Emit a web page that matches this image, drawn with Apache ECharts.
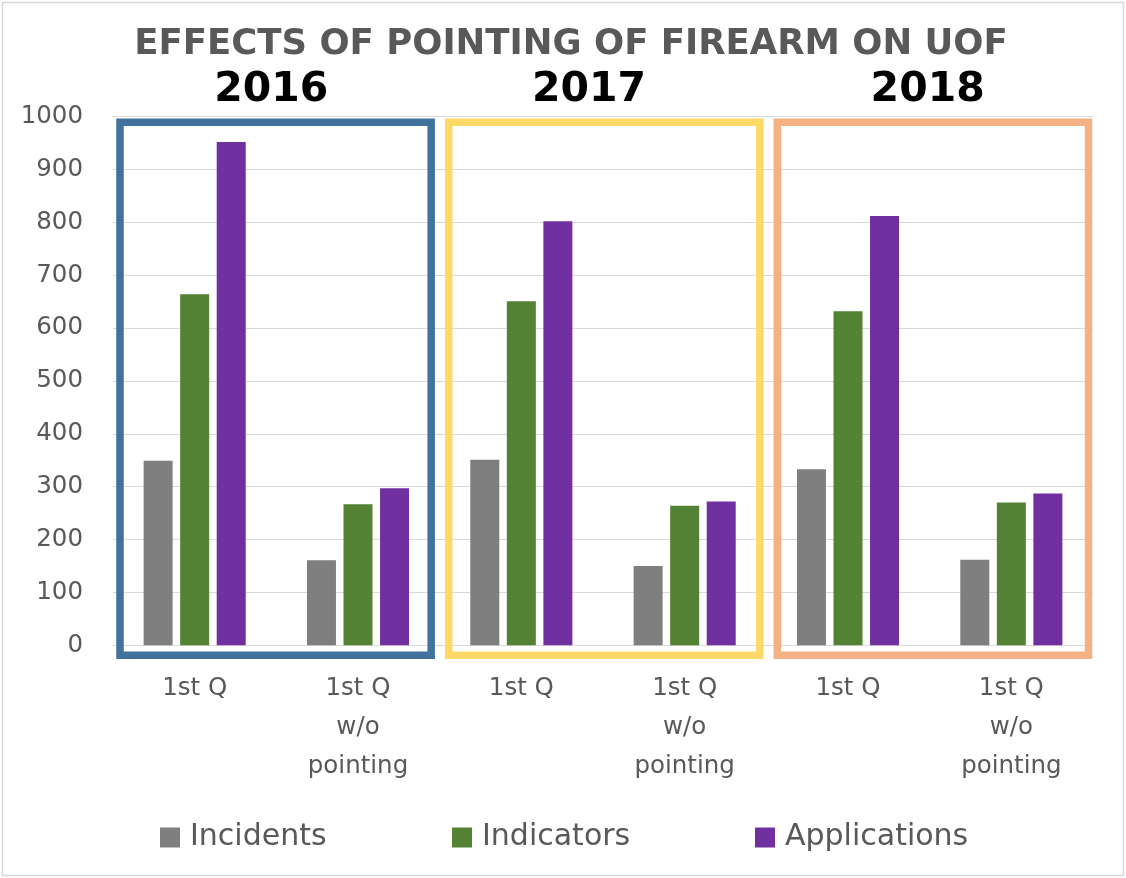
<!DOCTYPE html>
<html>
<head>
<meta charset="utf-8">
<script src="https://cdn.jsdelivr.net/npm/echarts@6/dist/echarts.min.js"></script>
<style>
  html, body { margin: 0; padding: 0; background: #ffffff; }
  #chart { width: 1126px; height: 878px; }
</style>
</head>
<body>
<div id="chart"></div>
<script>
// ---- data ----
const categories = ['1st Q', '1st Q\nw/o\npointing', '1st Q', '1st Q\nw/o\npointing', '1st Q', '1st Q\nw/o\npointing'];
const years = ['2016', '2017', '2018'];
const seriesNames = ['Incidents', 'Indicators', 'Applications'];
const incidents = [349, 161, 351, 150, 333, 162];
const indicators = [664, 267, 651, 264, 632, 270];
const applications = [952, 297, 802, 272, 812, 287];
const yMin = 0, yMax = 1000, yInterval = 100;
const titleText = 'EFFECTS OF POINTING OF FIREARM ON UOF';

// ---- styles / layout ----
const seriesColors = ['#7f7f7f', '#548235', '#7030a0'];
const boxColors = ['#41719c', '#ffd966', '#f4b183'];
const boxInsetL = [7, 9, 11];
const boxInsetR = [8.5, 6.5, 4.5];
const yearOffsets = [-5, -14, -2];
const legendLefts = [160, 452, 755];
const textColor = '#595959';
const FONT = '"DejaVu Sans", sans-serif';

const chart = echarts.init(document.getElementById('chart'), null, { renderer: 'canvas' });

const seriesData = [incidents, indicators, applications];

const option = {
  backgroundColor: '#ffffff',
  animation: false,
  grid: { left: 113, right: 33, top: 116.7, bottom: 232.7, containLabel: false },
  legend: seriesNames.map((n, i) => ({
    data: [n],
    left: legendLefts[i],
    top: 819.5,
    padding: 0,
    icon: 'rect',
    itemWidth: 20,
    itemHeight: 20,
    selectedMode: false,
    textStyle: { fontFamily: FONT, fontSize: 30, color: textColor, lineHeight: 36, padding: [0, 0, 0, 5] }
  })),
  xAxis: {
    type: 'category',
    data: categories,
    axisTick: { show: false },
    axisLine: { show: true, lineStyle: { color: '#d9d9d9', width: 1 } },
    axisLabel: {
      interval: 0,
      margin: 24,
      fontFamily: FONT,
      fontSize: 24.5,
      lineHeight: 39,
      color: textColor,
      align: 'center'
    }
  },
  yAxis: {
    type: 'value',
    min: yMin,
    max: yMax,
    interval: yInterval,
    axisLine: { show: false },
    axisTick: { show: false },
    splitLine: { lineStyle: { color: '#d9d9d9', width: 1 } },
    axisLabel: {
      margin: 30, fontFamily: FONT, fontSize: 24.5, color: textColor,
      formatter: (v) => String(v)
    }
  },
  series: seriesNames.map((n, i) => ({
    name: n,
    type: 'bar',
    data: seriesData[i],
    barWidth: 29,
    barGap: '26%',
    itemStyle: { color: seriesColors[i] }
  }))
};

chart.setOption(option);

function buildGraphics() {
  const c0 = chart.convertToPixel({ xAxisIndex: 0 }, 0);
  const c1 = chart.convertToPixel({ xAxisIndex: 0 }, 1);
  const band = c1 - c0;
  const y1000 = chart.convertToPixel({ yAxisIndex: 0 }, yMax);
  const y0 = chart.convertToPixel({ yAxisIndex: 0 }, yMin);
  const els = [];
  // outer chart frame
  els.push({
    type: 'rect', z: 0, silent: true,
    shape: { x: 2.5, y: 2.5, width: 1121, height: 873 },
    style: { fill: null, stroke: '#d9d9d9', lineWidth: 1.5 }
  });
  // title
  els.push({
    type: 'text', z: 10, silent: true,
    x: 571, y: 44.5,
    style: {
      text: titleText, fill: textColor,
      font: 'bold 35.5px ' + FONT,
      textAlign: 'center', textVerticalAlign: 'middle'
    }
  });
  years.forEach((yr, k) => {
    const ca = chart.convertToPixel({ xAxisIndex: 0 }, 2 * k);
    const cb = chart.convertToPixel({ xAxisIndex: 0 }, 2 * k + 1);
    const left = ca - band / 2 + boxInsetL[k];
    const right = cb + band / 2 - boxInsetR[k];
    const top = y1000 + 5.5;
    const bottom = y0 + 10;
    els.push({
      type: 'rect', z: 20, silent: true,
      shape: { x: left, y: top, width: right - left, height: bottom - top },
      style: { fill: null, stroke: boxColors[k], lineWidth: 7.5 }
    });
    els.push({
      type: 'text', z: 20, silent: true,
      x: (ca + cb) / 2 + yearOffsets[k], y: 90,
      style: {
        text: yr, fill: '#000000',
        font: 'bold 41px ' + FONT,
        textAlign: 'center', textVerticalAlign: 'middle'
      }
    });
  });
  chart.setOption({ graphic: els });
}
buildGraphics();
</script>
</body>
</html>
